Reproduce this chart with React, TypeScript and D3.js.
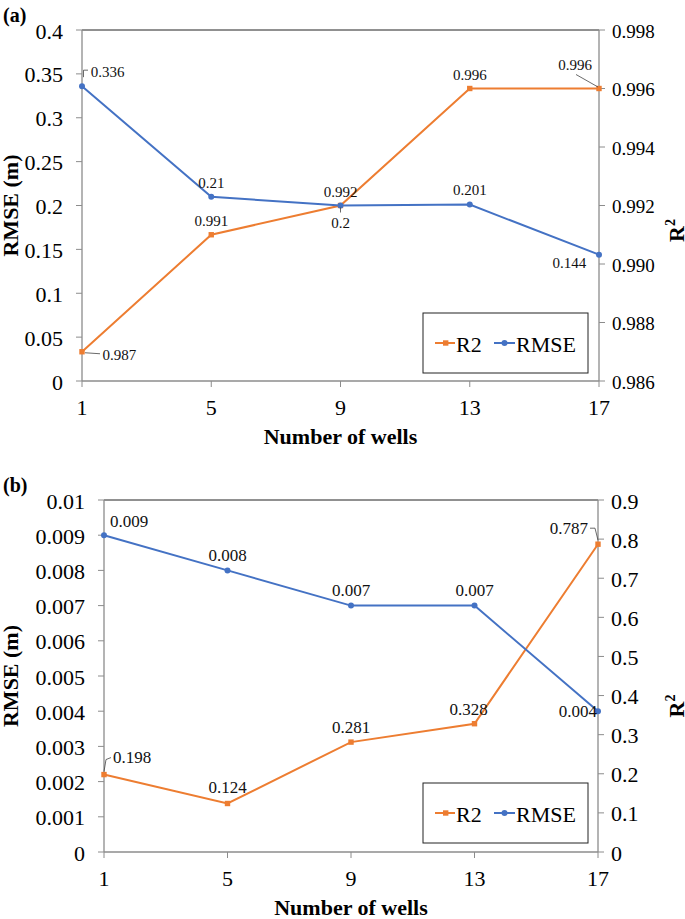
import React from "react";
import * as d3 from "d3";

const wells = [1, 5, 9, 13, 17];
const rmseA = [0.336, 0.21, 0.2, 0.201, 0.144];
const r2A = [0.987, 0.991, 0.992, 0.996, 0.996];
const rmseB = [0.009, 0.008, 0.007, 0.007, 0.004];
const r2B = [0.198, 0.124, 0.281, 0.328, 0.787];
const leftTicksA = [0, 0.05, 0.1, 0.15, 0.2, 0.25, 0.3, 0.35, 0.4];
const rightTicksA = [0.986, 0.988, 0.99, 0.992, 0.994, 0.996, 0.998];
const leftTicksB = [0, 0.001, 0.002, 0.003, 0.004, 0.005, 0.006, 0.007, 0.008, 0.009, 0.01];
const rightTicksB = [0, 0.1, 0.2, 0.3, 0.4, 0.5, 0.6, 0.7, 0.8, 0.9];

const BLUE = "#4472C4";
const ORANGE = "#ED7D31";
const AXIS = "#8c8c8c";
const FONT = "Liberation Serif, Times New Roman, serif";

type Lab = { dx: number; dy: number; anchor?: string; leader?: number[][] };

type PanelProps = {
  tag: string;
  x0: number; x1: number; y0: number; y1: number;
  leftDomain: [number, number]; rightDomain: [number, number];
  leftTicks: number[]; rightTicks: number[];
  leftFmt: (v: number) => string; rightFmt: (v: number) => string;
  rmse: number[]; r2: number[];
  rmseFmt: (v: number) => string; r2Fmt: (v: number) => string;
  rmseLabs: Lab[]; r2Labs: Lab[];
  labelSize: number;
  leftSize: number; rightSize: number;
  r2TitleOffset: number;
  legend: { x: number; y: number; w: number; h: number };
};

function T(props: any) {
  return <text fontFamily={FONT} fill="#000" {...props} />;
}

function Panel(p: PanelProps) {
  const x = d3.scaleLinear().domain([1, 17]).range([p.x0, p.x1]);
  const yl = d3.scaleLinear().domain(p.leftDomain).range([p.y1, p.y0]);
  const yr = d3.scaleLinear().domain(p.rightDomain).range([p.y1, p.y0]);
  const line = d3.line<[number, number]>().x((d) => d[0]).y((d) => d[1]);
  const rmsePts: [number, number][] = wells.map((w, i) => [x(w), yl(p.rmse[i])]);
  const r2Pts: [number, number][] = wells.map((w, i) => [x(w), yr(p.r2[i])]);
  const midY = (p.y0 + p.y1) / 2;
  const renderLab = (pts: [number, number][], vals: number[], labs: Lab[], fmt: (v: number) => string, key: string) =>
    pts.map((pt, i) => {
      const l = labs[i];
      return (
        <g key={key + i}>
          {l.leader && (
            <polyline
              points={l.leader.map((q) => `${pt[0] + q[0]},${pt[1] + q[1]}`).join(" ")}
              fill="none"
              stroke="#444"
              strokeWidth={0.8}
            />
          )}
          <T
            x={pt[0] + l.dx}
            y={pt[1] + l.dy}
            textAnchor={l.anchor || "middle"}
            dominantBaseline="central"
            fontSize={p.labelSize}
            fill="#111"
          >
            {fmt(vals[i])}
          </T>
        </g>
      );
    });
  const lg = p.legend;
  const ly = lg.y + lg.h / 2;
  return (
    <g>
      <T x={3} y={p.y0 - 8} fontWeight="bold" fontSize={20}>{p.tag}</T>
      <line x1={p.x0} x2={p.x1} y1={p.y0} y2={p.y0} stroke="#222" strokeWidth={1} />
      <line x1={p.x0} x2={p.x0} y1={p.y0} y2={p.y1} stroke={AXIS} strokeWidth={1.3} />
      {p.leftTicks.map((t) => (
        <g key={"lt" + t}>
          <line x1={p.x0 - 6} x2={p.x0} y1={yl(t)} y2={yl(t)} stroke={AXIS} />
          <T x={p.x0 - 19} y={yl(t) + 1} textAnchor="end" dominantBaseline="central" fontSize={p.leftSize}>
            {p.leftFmt(t)}
          </T>
        </g>
      ))}
      <line x1={p.x1} x2={p.x1} y1={p.y0} y2={p.y1} stroke={AXIS} strokeWidth={1.3} />
      {p.rightTicks.map((t) => (
        <g key={"rt" + t}>
          <line x1={p.x1} x2={p.x1 + 6} y1={yr(t)} y2={yr(t)} stroke={AXIS} />
          <T x={p.x1 + 13} y={yr(t) + 1} textAnchor="start" dominantBaseline="central" fontSize={p.rightSize}>
            {p.rightFmt(t)}
          </T>
        </g>
      ))}
      <line x1={p.x0} x2={p.x1} y1={p.y1} y2={p.y1} stroke={AXIS} strokeWidth={1.3} />
      {wells.map((w) => (
        <g key={"xt" + w}>
          <line x1={x(w)} x2={x(w)} y1={p.y1} y2={p.y1 + 6} stroke={AXIS} />
          <T x={x(w)} y={p.y1 + 26} textAnchor="middle" dominantBaseline="central" fontSize={22}>
            {w}
          </T>
        </g>
      ))}
      <T x={(p.x0 + p.x1) / 2} y={p.y1 + 63} textAnchor="middle" fontWeight="bold" fontSize={22}>
        Number of wells
      </T>
      <T transform={`translate(18,${midY}) rotate(-90)`} textAnchor="middle" fontWeight="bold" fontSize={22}>
        RMSE (m)
      </T>
      <T
        transform={`translate(684,${midY + p.r2TitleOffset}) rotate(-90)`}
        textAnchor="middle"
        fontWeight="bold"
        fontSize={22}
      >
        R<tspan fontSize={14} dy={-9}>2</tspan>
      </T>
      <path d={line(r2Pts) || ""} fill="none" stroke={ORANGE} strokeWidth={2} />
      <path d={line(rmsePts) || ""} fill="none" stroke={BLUE} strokeWidth={2} />
      {r2Pts.map((pt, i) => (
        <rect key={"r2m" + i} x={pt[0] - 2.7} y={pt[1] - 2.7} width={5.4} height={5.4} fill={ORANGE} />
      ))}
      {rmsePts.map((pt, i) => (
        <circle key={"rmm" + i} cx={pt[0]} cy={pt[1]} r={3} fill={BLUE} />
      ))}
      {renderLab(r2Pts, p.r2, p.r2Labs, p.r2Fmt, "r2l")}
      {renderLab(rmsePts, p.rmse, p.rmseLabs, p.rmseFmt, "rml")}
      <rect x={lg.x} y={lg.y} width={lg.w} height={lg.h} fill="#fff" stroke="#222" strokeWidth={1} />
      <line x1={lg.x + 12} x2={lg.x + 32} y1={ly} y2={ly} stroke={ORANGE} strokeWidth={2} />
      <rect x={lg.x + 20} y={ly - 2.7} width={5.4} height={5.4} fill={ORANGE} />
      <T x={lg.x + 33} y={ly + 1} dominantBaseline="central" fontSize={22}>R2</T>
      <line x1={lg.x + 71} x2={lg.x + 92} y1={ly} y2={ly} stroke={BLUE} strokeWidth={2} />
      <circle cx={lg.x + 81.5} cy={ly} r={3} fill={BLUE} />
      <T x={lg.x + 93} y={ly + 1} dominantBaseline="central" fontSize={22}>RMSE</T>
    </g>
  );
}

const fmtTrim = (v: number) => String(+v.toFixed(4));

export default function App() {
  return (
    <svg width={685} height={919} style={{ position: "absolute", left: 0, top: 0, background: "#fff" }}>
      <Panel
        tag="(a)"
        x0={82} x1={599} y0={30} y1={381}
        leftDomain={[0, 0.4]} rightDomain={[0.986, 0.998]}
        leftTicks={leftTicksA} rightTicks={rightTicksA}
        leftFmt={fmtTrim} rightFmt={(v) => v.toFixed(3)}
        rmse={rmseA} r2={r2A}
        rmseFmt={fmtTrim} r2Fmt={(v) => v.toFixed(3)}
        labelSize={15}
        leftSize={22} rightSize={19}
        r2TitleOffset={25}
        rmseLabs={[
          { dx: 8.7, dy: -14, anchor: "start", leader: [[1.5, -9], [1.5, -16], [6, -16]] },
          { dx: 0, dy: -14 },
          { dx: 0, dy: 17.5, leader: [[0, 2], [0, 7]] },
          { dx: 0, dy: -15 },
          { dx: -29.7, dy: 8.3 },
        ]}
        r2Labs={[
          { dx: 20.6, dy: 3, anchor: "start", leader: [[3, 1], [18, 2]] },
          { dx: 0, dy: -14 },
          { dx: 0, dy: -14 },
          { dx: 0, dy: -14 },
          { dx: -24, dy: -24, leader: [[-1, -1.5], [-23, -14]] },
        ]}
        legend={{ x: 423, y: 313, w: 165, h: 60 }}
      />
      <Panel
        tag="(b)"
        x0={104} x1={598} y0={500} y1={852}
        leftDomain={[0, 0.01]} rightDomain={[0, 0.9]}
        leftTicks={leftTicksB} rightTicks={rightTicksB}
        leftFmt={fmtTrim} rightFmt={fmtTrim}
        rmse={rmseB} r2={r2B}
        rmseFmt={(v) => v.toFixed(3)} r2Fmt={(v) => v.toFixed(3)}
        labelSize={17}
        leftSize={22} rightSize={22}
        r2TitleOffset={30}
        rmseLabs={[
          { dx: 6, dy: -14, anchor: "start" },
          { dx: 0, dy: -15 },
          { dx: 0, dy: -15 },
          { dx: 0, dy: -15 },
          { dx: -1, dy: 0, anchor: "end" },
        ]}
        r2Labs={[
          { dx: 9, dy: -16.7, anchor: "start", leader: [[0, -3], [2, -15], [7, -17]] },
          { dx: 0, dy: -15.7 },
          { dx: 0, dy: -15 },
          { dx: -6, dy: -14 },
          { dx: -10, dy: -16, anchor: "end", leader: [[0, -4], [-3, -16], [-8, -16]] },
        ]}
        legend={{ x: 423, y: 783, w: 165, h: 60 }}
      />
    </svg>
  );
}
